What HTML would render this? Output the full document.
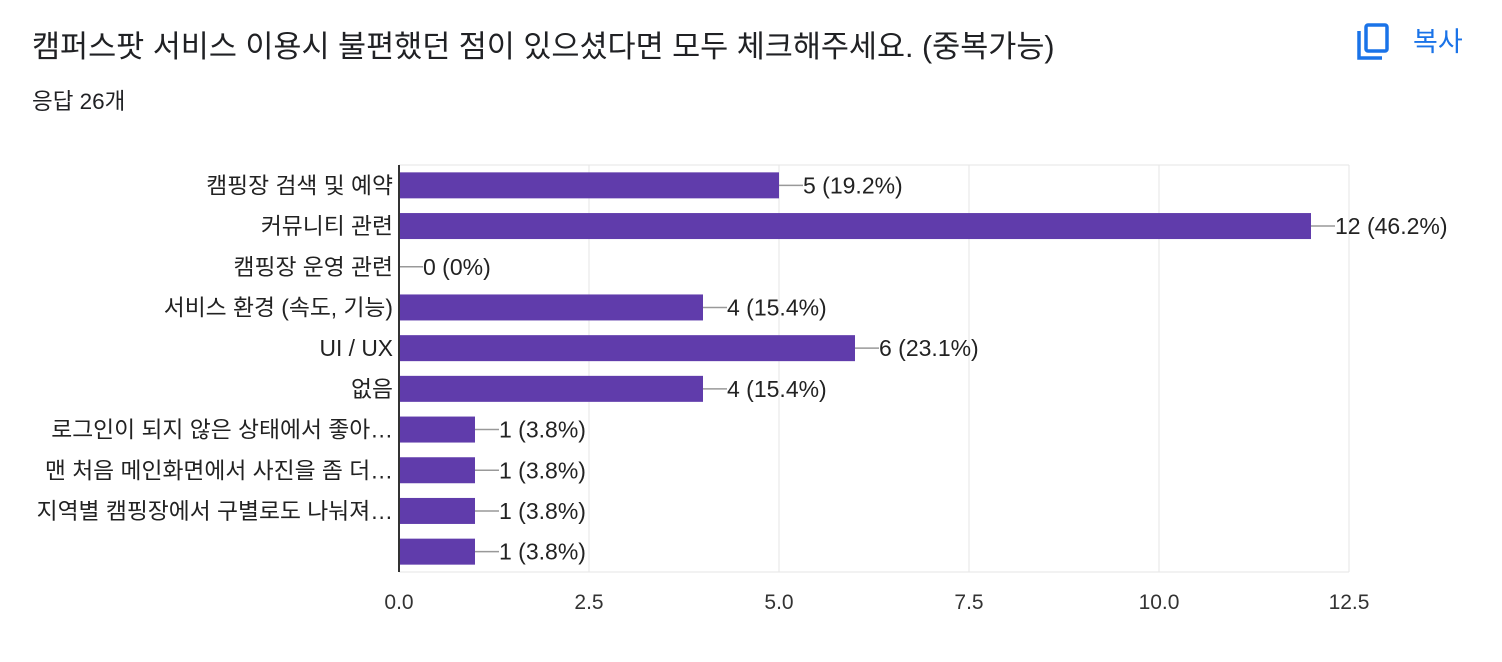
<!DOCTYPE html>
<html><head><meta charset="utf-8"><style>
body{margin:0;background:#fff;width:1502px;height:662px;overflow:hidden;font-family:"Liberation Sans","Noto Sans CJK KR",sans-serif;}
#title{position:absolute;left:32px;top:27px;font-size:30.5px;line-height:40px;color:#202124;white-space:nowrap;}
#count{position:absolute;left:32px;top:88px;font-size:22.5px;line-height:28px;color:#202124;}
#copy{position:absolute;left:1355px;top:22px;display:flex;align-items:center;color:#1a73e8;font-size:27px;cursor:pointer;}
</style></head><body>
<div id="title">캠퍼스팟 서비스 이용시 불편했던 점이 있으셨다면 모두 체크해주세요. (중복가능)</div>
<div id="count">응답 26개</div>
<div id="copy">
<svg width="36" height="38" viewBox="0 0 36 38"><path d="M4 9 V36 H27" stroke="#1a73e8" stroke-width="3.5" fill="none"/><rect x="11" y="3" width="21" height="26" rx="2" stroke="#1a73e8" stroke-width="3.5" fill="none"/></svg>
<span style="margin-left:22px;margin-top:-4px">복사</span></div>
<svg id="chart" width="1502" height="662" style="position:absolute;left:0;top:0"></svg>
<script>
const categories=["캠핑장 검색 및 예약","커뮤니티 관련","캠핑장 운영 관련","서비스 환경 (속도, 기능)","UI / UX","없음","로그인이 되지 않은 상태에서 좋아…","맨 처음 메인화면에서 사진을 좀 더…","지역별 캠핑장에서 구별로도 나눠져…",""];
const values=[5,12,0,4,6,4,1,1,1,1];
const valueLabels=["5 (19.2%)","12 (46.2%)","0 (0%)","4 (15.4%)","6 (23.1%)","4 (15.4%)","1 (3.8%)","1 (3.8%)","1 (3.8%)","1 (3.8%)"];
const ticks=[0,2.5,5,7.5,10,12.5];
const tickLabels=["0.0","2.5","5.0","7.5","10.0","12.5"];
const NS="http://www.w3.org/2000/svg";
const svg=document.getElementById('chart');
const x0=399,pxPerUnit=76,top0=165,rowH=40.7,barH=26,bottom=572;
const xs=v=>x0+v*pxPerUnit;
const yc=i=>top0+rowH*(i+0.5);
function mk(t,a){const e=document.createElementNS(NS,t);for(const k in a)e.setAttribute(k,a[k]);svg.appendChild(e);return e;}
ticks.forEach((t,i)=>{
 if(t>0){const g=mk('line',{x1:xs(t),x2:xs(t),y1:top0,y2:bottom,stroke:'#e6e6e6','stroke-width':1});
 
 }
 const l=mk('text',{x:xs(t),y:609,'text-anchor':'middle','font-size':21,fill:'#333'});l.textContent=tickLabels[i];
 
 
});
const tg=mk('line',{x1:x0,x2:xs(12.5),y1:top0,y2:top0,stroke:'#e6e6e6'});


const bl=mk('line',{x1:x0,x2:xs(12.5),y1:bottom,y2:bottom,stroke:'#e6e6e6'});


categories.forEach((c,i)=>{
 const y=yc(i),v=values[i];
 const b=mk('rect',{x:x0,y:y-barH/2,width:v*pxPerUnit,height:barH,fill:'#603cab'});
 
 
 const ln=mk('line',{x1:xs(v),x2:xs(v)+24,y1:y,y2:y,stroke:'#999','stroke-width':1.5});
 
 
 const vl=mk('text',{x:xs(v)+24,y:y+8,'font-size':23,fill:'#222'});vl.textContent=valueLabels[i];
 
 
 const cl=mk('text',{x:393,y:y+8,'text-anchor':'end','font-size':22.8,fill:'#222'});cl.textContent=c;
 
 
});
const ax=mk('line',{x1:x0,x2:x0,y1:top0,y2:bottom,stroke:'#333','stroke-width':2});


</script>
</body></html>
